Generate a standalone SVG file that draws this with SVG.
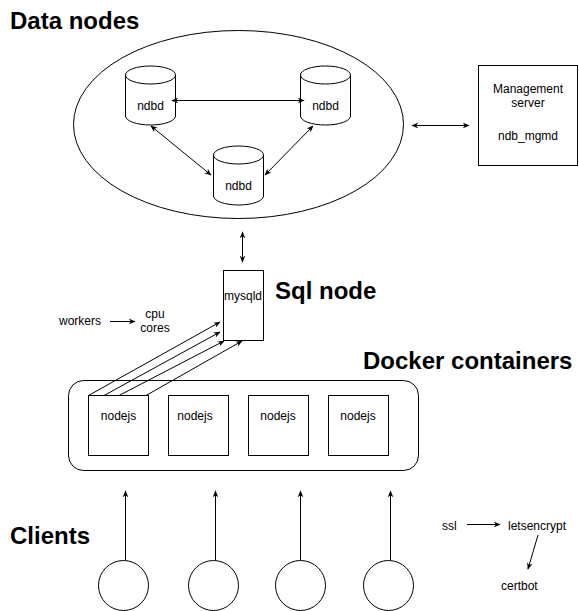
<svg xmlns="http://www.w3.org/2000/svg" width="579" height="611" viewBox="0 0 579 611">
<defs>
<marker id="ah" viewBox="0 0 10 10" refX="9" refY="5" markerWidth="7" markerHeight="7" orient="auto-start-reverse" markerUnits="userSpaceOnUse">
<path d="M0,1 L10,5 L0,9 L3,5 Z" fill="#000"/>
</marker>
<style>
.s{fill:#fff;stroke:#000;stroke-width:1}
.t{font-family:"Liberation Sans",Arial,sans-serif;font-size:12px;fill:#000}
.m{text-anchor:middle}
.h{font-family:"Liberation Sans",Arial,sans-serif;font-size:24px;font-weight:bold;fill:#000}
.c{fill:none;stroke:#000;stroke-width:1}
.a{marker-end:url(#ah)}
.b{marker-start:url(#ah);marker-end:url(#ah)}
</style>
</defs>
<rect width="579" height="611" fill="#fff"/>
<g id="titles">
<text class="h" x="10" y="29">Data nodes</text>
<text class="h" x="275" y="299">Sql node</text>
<text class="h" x="363" y="369">Docker containers</text>
<text class="h" x="10" y="544">Clients</text>
</g>
<g id="cluster"><ellipse class="s" cx="238.5" cy="124.5" rx="165" ry="94"/></g>
<g id="ndbd1">
<path class="s" d="M125.5,75 A25,9 0 0 1 175.5,75 L175.5,116 A25,9 0 0 1 125.5,116 Z"/>
<path class="c" d="M125.5,75 A25,9 0 0 0 175.5,75"/>
<text class="t m" x="150.5" y="110">ndbd</text>
</g>
<g id="ndbd2">
<path class="s" d="M300.5,75 A25,9 0 0 1 350.5,75 L350.5,116 A25,9 0 0 1 300.5,116 Z"/>
<path class="c" d="M300.5,75 A25,9 0 0 0 350.5,75"/>
<text class="t m" x="325.5" y="110">ndbd</text>
</g>
<g id="ndbd3">
<path class="s" d="M213.5,155 A25,9 0 0 1 263.5,155 L263.5,196 A25,9 0 0 1 213.5,196 Z"/>
<path class="c" d="M213.5,155 A25,9 0 0 0 263.5,155"/>
<text class="t m" x="238.5" y="190">ndbd</text>
</g>
<g id="mgmt">
<rect class="s" x="478.5" y="65.5" width="99" height="100"/>
<text class="t m" x="528" y="93">Management</text>
<text class="t m" x="528" y="107">server</text>
<text class="t m" x="528" y="140">ndb_mgmd</text>
</g>
<g id="mysqld">
<rect class="s" x="223.5" y="270.5" width="40" height="70"/>
<text class="t m" x="243" y="300">mysqld</text>
</g>
<g id="docker"><rect class="s" x="68.5" y="380.5" width="350" height="90" rx="15"/></g>
<g id="nodejs1"><rect class="s" x="88.5" y="395.5" width="60" height="60"/><text class="t m" x="118.5" y="420">nodejs</text></g>
<g id="nodejs2"><rect class="s" x="168.5" y="395.5" width="60" height="60"/><text class="t m" x="195" y="420">nodejs</text></g>
<g id="nodejs3"><rect class="s" x="248.5" y="395.5" width="60" height="60"/><text class="t m" x="278" y="420">nodejs</text></g>
<g id="nodejs4"><rect class="s" x="328.5" y="395.5" width="60" height="60"/><text class="t m" x="358" y="420">nodejs</text></g>
<g id="client1"><circle class="s" cx="123.5" cy="585.5" r="25"/></g>
<g id="client2"><circle class="s" cx="213.5" cy="585.5" r="25"/></g>
<g id="client3"><circle class="s" cx="300.5" cy="585.5" r="25"/></g>
<g id="client4"><circle class="s" cx="388.5" cy="585.5" r="25"/></g>
<g id="labels">
<text class="t" x="59" y="325">workers</text>
<text class="t m" x="155" y="318">cpu</text>
<text class="t m" x="155" y="332">cores</text>
<text class="t" x="442" y="530">ssl</text>
<text class="t" x="508" y="530">letsencrypt</text>
<text class="t" x="501" y="590">certbot</text>
</g>
<g id="connectors">
<line class="c b" x1="172" y1="100.5" x2="304" y2="100.5"/>
<line class="c b" x1="151" y1="126" x2="211" y2="175"/>
<line class="c b" x1="313" y1="126" x2="265" y2="175"/>
<line class="c b" x1="412" y1="125.5" x2="469" y2="125.5"/>
<line class="c b" x1="242.5" y1="232" x2="242.5" y2="262"/>
<line class="c a" x1="88.5" y1="395.5" x2="220" y2="322"/>
<line class="c a" x1="104" y1="395.5" x2="220" y2="332"/>
<line class="c a" x1="119" y1="395.5" x2="224" y2="341"/>
<line class="c a" x1="146" y1="395.5" x2="242" y2="341"/>
<line class="c a" x1="110" y1="321.5" x2="135" y2="321.5"/>
<line class="c a" x1="125.5" y1="560" x2="125.5" y2="491"/>
<line class="c a" x1="215.5" y1="560" x2="215.5" y2="491"/>
<line class="c a" x1="300.5" y1="560" x2="300.5" y2="491"/>
<line class="c a" x1="390.5" y1="560" x2="390.5" y2="491"/>
<line class="c a" x1="467" y1="524.5" x2="500" y2="524.5"/>
<line class="c a" x1="538" y1="535" x2="528" y2="569"/>
</g>
</svg>
